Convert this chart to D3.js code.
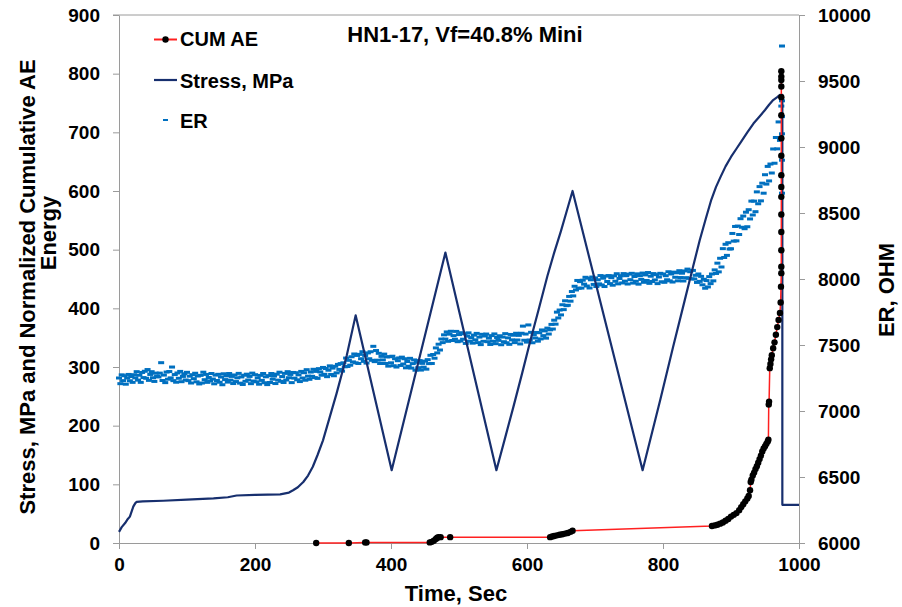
<!DOCTYPE html>
<html><head><meta charset="utf-8">
<script src="https://cdn.jsdelivr.net/npm/d3@7"></script>
<style>
html,body{margin:0;padding:0;background:#fff;}
svg text{font-family:"Liberation Sans",Arial,sans-serif;font-weight:bold;fill:#000;}
</style></head>
<body><svg id="c" width="902" height="607"></svg>
<script>
// ---------- data ----------
const titleText = "HN1-17, Vf=40.8% Mini";
const xTicks = [0, 200, 400, 600, 800, 1000];
const yLeftTicks = [0, 100, 200, 300, 400, 500, 600, 700, 800, 900];
const yRightTicks = [6000, 6500, 7000, 7500, 8000, 8500, 9000, 9500, 10000];

// Stress (MPa) : [time, value]
const stressT = [0,4,9,13,16,19,21,24,26,35,65,100,139,160,173,200,237,250,256,263,271,278,285,292,300,310,320,335,348,401,480,555,568,580,593,605,618,630,640,650,659,667,770,796,815,832,844,854,863,871,878,885,892,900,908,915,924,933,942,950,956,962,968,972,975.5,975.5,1000];
const stressV = [19,27,34,41,45,55,62,68,70,71,72,74,76,78,81,82,83,86,90,95,104,115,130,150,175,215,255,320,388,124,495,124,180,232,290,345,402,455,495,532,568,600,124,244,335,414,470,516,553,585,607,625,642,658,672,684,700,715,727,738,747,755,760,764,764,65,65];

// Normalized cumulative AE energy : [time, value]
const aeT = [290,338,362,364,457,460,463,466,468,470,473,487,634,637,640,644,648,652,656,660,664,667,872,876,880,884,888,892,896,900,904,908,912,915,918,921,924,926,928,929,930,932,934,936,938,940,942,944,946,948,950,952,954,955,955.5,956,957,958,959,960,962,964,966,968,970,972,973,973.5,974,974,974,974,974,974,974,974,974,974,974,974,974,974,974,974];
const aeV = [0,0,1,1,1,2,4,7,9,10,10,10,10,11,12,13,14,15,16,17,19,21,29,30,31,33,35,38,41,45,48,51,56,61,66,71,76,80,90,104,108,115,120,126,131,137,143,149,156,161,165,169,173,176,236,241,298,305,313,320,332,342,355,368,380,392,410,437,460,471,499,530,560,590,607,627,660,690,729,760,778,789,795,804];

// ER (OHM), one reading every 2 s from 0 to 974 s, then the readings at failure
const erStart = 0, erStep = 2;
const erV = [
7250,7207,7274,7230,7267,7203,7250,7277,7229,7261,
7217,7275,7251,7298,7234,7271,7217,7292,7253,7301,
7248,7314,7232,7277,7298,7252,7224,7287,7264,7258,
7287,7366,7231,7272,7215,7295,7241,7299,7251,7333,
7230,7276,7218,7288,7248,7300,7222,7262,7282,7235,
7293,7230,7264,7212,7275,7245,7286,7221,7265,7205,
7270,7212,7294,7237,7277,7217,7254,7228,7284,7242,
7206,7272,7231,7278,7218,7257,7199,7282,7238,7266,
7219,7284,7234,7262,7208,7273,7223,7251,7285,7211,
7258,7201,7271,7225,7279,7235,7262,7207,7287,7227,
7275,7221,7251,7203,7270,7232,7284,7214,7259,7200,
7268,7216,7284,7241,7265,7208,7279,7234,7294,7225,
7261,7216,7285,7235,7298,7252,7277,7215,7292,7249,
7290,7236,7274,7223,7300,7250,7290,7233,7313,7264,
7240,7295,7263,7316,7253,7300,7247,7321,7296,7271,
7330,7278,7322,7260,7309,7342,7277,7325,7267,7339,
7289,7353,7315,7359,7302,7365,7335,7401,7337,7384,
7347,7411,7372,7432,7365,7421,7360,7429,7396,7449,
7376,7421,7363,7440,7396,7449,7384,7490,7374,7458,
7385,7437,7360,7414,7387,7431,7360,7410,7340,7411,
7365,7415,7343,7396,7333,7381,7402,7345,7408,7356,
7396,7327,7375,7339,7399,7325,7359,7387,7309,7369,
7328,7382,7310,7361,7332,7378,7317,7389,7359,7422,
7360,7428,7400,7478,7440,7506,7462,7545,7518,7577,
7545,7599,7528,7582,7604,7534,7571,7544,7603,7525,
7579,7530,7593,7544,7585,7512,7567,7592,7529,7556,
7514,7575,7539,7588,7518,7560,7503,7581,7528,7568,
7583,7525,7552,7504,7571,7529,7584,7510,7557,7535,
7570,7502,7560,7525,7586,7517,7554,7505,7580,7539,
7574,7518,7589,7538,7573,7508,7589,7643,7536,7583,
7522,7652,7538,7596,7517,7578,7553,7595,7529,7593,
7546,7614,7571,7607,7552,7628,7583,7615,7656,7621,
7688,7658,7749,7705,7765,7728,7805,7768,7835,7798,
7801,7868,7832,7905,7872,7945,7917,7989,7930,7980,
7931,7991,7961,8013,7947,8006,7932,7994,8015,7959,
8008,7943,7994,7963,8026,7955,8006,7943,8022,7981,
8026,7965,8010,7953,8024,7983,8040,7963,8004,8025,
7970,8041,7984,8025,7962,8037,7995,8043,7969,8019,
7983,8039,7961,8025,7997,8045,7975,8031,7989,8049,
7967,8021,7981,8041,7993,8033,7965,8015,8043,7979,
8038,7975,8025,7994,8055,7986,8038,7977,8052,8013,
8047,7986,8063,8011,8044,7985,8061,8010,8075,8005,
8055,8001,8065,8000,8028,7974,8038,7982,8020,7956,
7998,7930,7988,7940,8018,7965,8038,7986,8069,8042,
8120,8054,8157,8091,8230,8163,8263,8179,8275,8227,
8229,8345,8287,8398,8289,8401,8337,8457,8392,8477,
8381,8506,8396,8525,8455,8590,8485,8590,8510,8660,
8570,8700,8592,8726,8650,8790,8719,8853,8743,8871,
8803,8985,8877,9072,8986,9190,9050,9310
];
const erFailT = [975, 975, 975, 975, 975, 975];
const erFailV = [8650, 8900, 9100, 9230, 9350, 9765];

// ---------- chart ----------
const svg = d3.select("#c");
const L = 119, R = 799, T = 15, B = 543;
const x = d3.scaleLinear().domain([0, 1000]).range([L, R]);
const yL = d3.scaleLinear().domain([0, 900]).range([B, T]);
const yR = d3.scaleLinear().domain([6000, 10000]).range([B, T]);
const axisCol = "#9a9a9a";

// frame top line
svg.append("line").attr("x1", L - 6).attr("x2", R).attr("y1", T).attr("y2", T)
  .attr("stroke", axisCol).attr("stroke-width", 1);

function styleAxis(g) {
  g.selectAll("path").attr("stroke", axisCol).attr("stroke-width", 1);
  g.selectAll("line").attr("stroke", axisCol).attr("stroke-width", 1);
  g.selectAll("text").attr("font-size", 19).attr("font-family", '"Liberation Sans",Arial,sans-serif')
    .attr("font-weight", "bold").attr("fill", "#000");
}
svg.append("g").attr("transform", `translate(0,${B})`)
  .call(d3.axisBottom(x).tickValues(xTicks).tickSize(6).tickSizeOuter(0).tickPadding(9).tickFormat(d3.format("d")))
  .call(styleAxis);
svg.append("g").attr("transform", `translate(${L},0)`)
  .call(d3.axisLeft(yL).tickValues(yLeftTicks).tickSize(6).tickSizeOuter(0).tickPadding(13).tickFormat(d3.format("d")))
  .call(styleAxis);
svg.append("g").attr("transform", `translate(${R},0)`)
  .call(d3.axisRight(yR).tickValues(yRightTicks).tickSize(6).tickSizeOuter(0).tickPadding(13).tickFormat(d3.format("d")))
  .call(styleAxis);

// ER dashes
const erPts = erV.map((v, i) => [erStart + i * erStep, v]).concat(erFailT.map((t, i) => [t, erFailV[i]]));
svg.append("g").selectAll("rect").data(erPts).join("rect")
  .attr("x", d => x(d[0]) - 3).attr("y", d => yR(d[1]) - 1.5)
  .attr("width", 6).attr("height", 3).attr("fill", "#0070c0");

// Stress line
const stress = stressT.map((t, i) => [t, stressV[i]]);
svg.append("path").datum(stress)
  .attr("d", d3.line().x(d => x(d[0])).y(d => yL(d[1])))
  .attr("fill", "none").attr("stroke", "#172f6e").attr("stroke-width", 2.2).attr("stroke-linejoin", "round");

// CUM AE
const ae = aeT.map((t, i) => [t, aeV[i]]);
svg.append("path").datum(ae)
  .attr("d", d3.line().x(d => x(d[0])).y(d => yL(d[1])))
  .attr("fill", "none").attr("stroke", "#ff2020").attr("stroke-width", 1.5);
svg.append("g").selectAll("circle").data(ae).join("circle")
  .attr("cx", d => x(d[0])).attr("cy", d => yL(d[1])).attr("r", 3.2).attr("fill", "#000");

// Title
svg.append("text").attr("x", 465).attr("y", 42).attr("text-anchor", "middle")
  .attr("font-size", 22).text(titleText);

// Legend
const lg = svg.append("g");
lg.append("line").attr("x1", 154).attr("x2", 177).attr("y1", 39.5).attr("y2", 39.5)
  .attr("stroke", "#ff2020").attr("stroke-width", 2);
lg.append("circle").attr("cx", 165.5).attr("cy", 39.5).attr("r", 3.2).attr("fill", "#000");
lg.append("text").attr("x", 180).attr("y", 45.5).attr("font-size", 20).text("CUM AE");
lg.append("line").attr("x1", 154).attr("x2", 177).attr("y1", 80).attr("y2", 80)
  .attr("stroke", "#172f6e").attr("stroke-width", 2.2);
lg.append("text").attr("x", 180).attr("y", 88).attr("font-size", 20).text("Stress, MPa");
lg.append("rect").attr("x", 163).attr("y", 119).attr("width", 5).attr("height", 2).attr("fill", "#0070c0");
lg.append("text").attr("x", 180).attr("y", 127.5).attr("font-size", 20).text("ER");

// Axis titles
svg.append("text").attr("transform", "translate(35,287) rotate(-90)").attr("text-anchor", "middle")
  .attr("font-size", 22).text("Stress, MPa and Normalized Cumulative AE");
svg.append("text").attr("transform", "translate(56,233) rotate(-90)").attr("text-anchor", "middle")
  .attr("font-size", 22).text("Energy");
svg.append("text").attr("transform", "translate(894,290) rotate(-90)").attr("text-anchor", "middle")
  .attr("font-size", 22).text("ER, OHM");
svg.append("text").attr("x", 456).attr("y", 601).attr("text-anchor", "middle")
  .attr("font-size", 22).text("Time, Sec");
</script></body></html>
